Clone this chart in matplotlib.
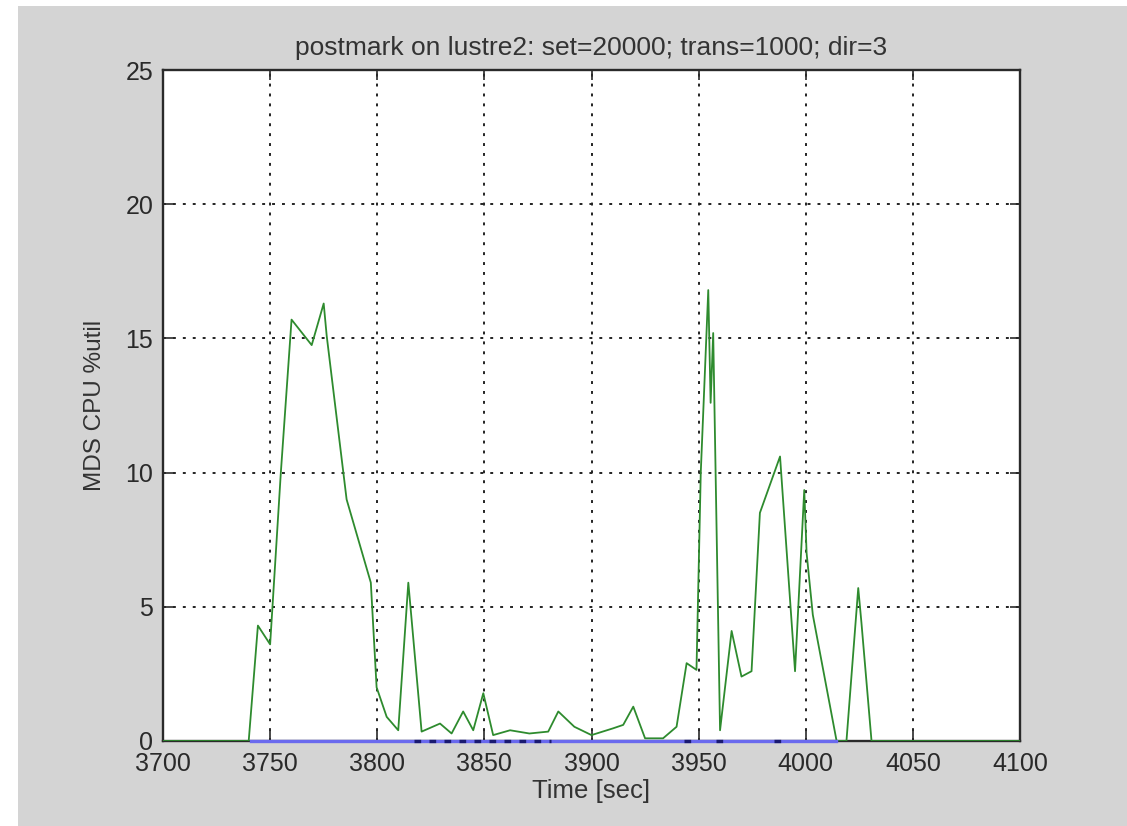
import matplotlib
matplotlib.use("Agg")
import matplotlib.pyplot as plt
import numpy as np
from matplotlib.patches import Rectangle

plt.rcParams['font.family'] = ['Liberation Sans', 'DejaVu Sans']

title = "postmark on lustre2: set=20000; trans=1000; dir=3"
xlabel = "Time [sec]"
ylabel = "MDS CPU %util"
xticks = [3700, 3750, 3800, 3850, 3900, 3950, 4000, 4050, 4100]
yticks = [0, 5, 10, 15, 20, 25]

# green series (MDS CPU %util)
time_s = [3700, 3740, 3744.3, 3750, 3755, 3760, 3769.4, 3775, 3776.4, 3785.7,
          3797.0, 3799.7, 3804.4, 3809.8, 3814.5, 3820.7, 3829.3, 3834.7, 3840.1,
          3844.8, 3849.5, 3854.1, 3862, 3871, 3879.8, 3884.5, 3892, 3900, 3910,
          3914.8, 3919.5, 3925, 3933.4, 3939.7, 3944.4, 3949, 3951, 3954.5, 3955.6,
          3956.8, 3960, 3965.4, 3970, 3974.7, 3978.6, 3988, 3995, 3999.3, 4000.4,
          4003.3, 4014.4, 4019, 4024.5, 4026, 4030.7, 4100]
cpu_util = [0, 0, 4.3, 3.6, 10.0, 15.7, 14.75, 16.3, 15.1, 9.0,
            5.9, 2.0, 0.9, 0.4, 5.9, 0.35, 0.65, 0.28, 1.1,
            0.4, 1.78, 0.22, 0.4, 0.28, 0.35, 1.1, 0.53, 0.22, 0.47,
            0.6, 1.28, 0.1, 0.1, 0.53, 2.9, 2.65, 10.0, 16.8, 12.6,
            15.2, 0.4, 4.1, 2.4, 2.6, 8.5, 10.6, 2.6, 9.35, 7.0,
            4.7, 0, 0, 5.7, 4.4, 0, 0]

# blue series (flat at zero)
blue_time = [3741, 4014]
blue_vals = [0, 0]

# dark navy series fragments at zero
navy_time = [3817, 3881, np.nan, 3943, 3947, np.nan, 3958, 3962, np.nan, 3985, 3991]
navy_vals = [0, 0, np.nan, 0, 0, np.nan, 0, 0, np.nan, 0, 0]

W, H = 1127, 826
fig = plt.figure(figsize=(W / 100, H / 100), dpi=100, facecolor='white')
bg = Rectangle((18 / W, 0), 1 - 18 / W, 1 - 6 / H,
               transform=fig.transFigure, facecolor='#d4d4d4',
               edgecolor='none', zorder=-10)
fig.patches.append(bg)

ax = fig.add_axes([163 / W, 1 - 741 / H, (1020 - 163) / W, (741 - 70) / H])
ax.set_zorder(1)
ax.set_facecolor('white')

ax.plot(time_s, cpu_util, color='#2e8b2e', lw=1.3, zorder=3)
ax.plot(blue_time, blue_vals, color='#6a6aee', lw=2.4, zorder=4, clip_on=False)
ax.plot(navy_time, navy_vals, color='#1a1a70', lw=2.4, zorder=5,
        dashes=(2, 2.5), clip_on=False)

ax.set_xlim(3700, 4100)
ax.set_ylim(0, 25)
ax.set_xticks(xticks)
ax.set_yticks(yticks)
ax.grid(True, color='#222222', lw=1.4, dashes=(1.5, 3.6))
ax.set_axisbelow(True)
ax.tick_params(direction='in', length=7, width=1.2, top=True, right=True,
               labelsize=18, colors='#2a2a2a')
ax.tick_params(axis='x', pad=8)
ax.tick_params(axis='y', pad=7)
for s in ax.spines.values():
    s.set_linewidth(1.7)
    s.set_color('#2a2a2a')

ax.set_title(title, fontsize=19, color='#333333', pad=11)
ax.set_xlabel(xlabel, fontsize=18.5, color='#333333', labelpad=2)
ax.set_ylabel(ylabel, fontsize=17.5, color='#333333', labelpad=14)

fig.savefig('out.png', dpi=100, facecolor=fig.get_facecolor())
